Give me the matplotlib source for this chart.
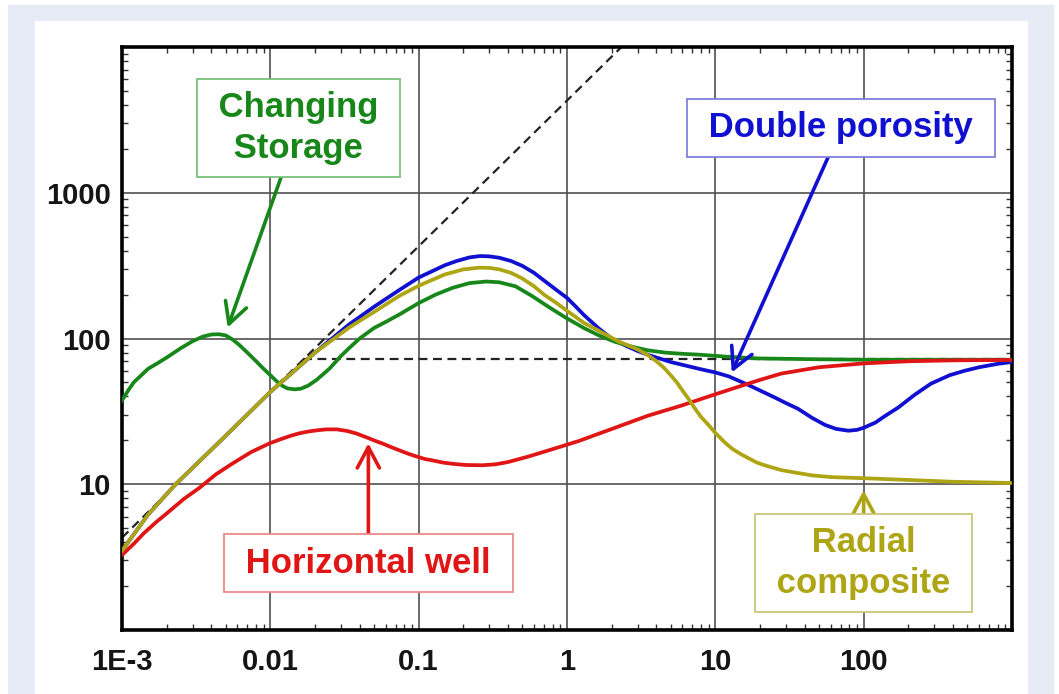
import numpy as np
import matplotlib
matplotlib.use("Agg")
import matplotlib.pyplot as plt
from matplotlib.patches import Rectangle
from matplotlib.ticker import FixedLocator, LogLocator, NullFormatter

plt.rcParams['font.family'] = ['Liberation Sans', 'DejaVu Sans']

# --- data (log-log derivative plot) ---
storage_x = [1e-3, 1.1e-3, 1.2e-3, 1.35e-3, 1.5e-3, 1.75e-3, 2e-3, 2.5e-3, 3e-3, 3.5e-3,
             4e-3, 4.5e-3, 5e-3, 5.6e-3, 6.2e-3, 7e-3, 8e-3, 9e-3, 0.01, 0.011,
             0.012, 0.013, 0.0145, 0.016, 0.018, 0.0205, 0.025, 0.03, 0.034, 0.04,
             0.05, 0.06, 0.074, 0.1, 0.13, 0.17, 0.22, 0.285, 0.35, 0.45,
             0.58, 0.75, 0.98, 1.3, 1.64, 2.1, 2.73, 3.5, 4.6, 6,
             7.7, 12, 19.5, 50, 100, 300, 1000]
storage_y = [37.6, 44, 50, 56, 62, 68, 74, 86, 96, 103,
             106.5, 107, 105, 98, 90, 80, 70, 62, 56, 51,
             47.5, 45.5, 44.8, 45.2, 47.5, 52, 62, 76, 86, 100,
             118, 130, 146, 175, 200, 223, 240, 246, 243, 228,
             196, 165, 139, 118, 105, 95, 88, 83, 80, 78.5,
             77.5, 75, 73, 72, 71.5, 71.5, 71.5]

dporo_x = [1e-3, 1.5e-3, 2.3e-3, 0.005, 0.01, 0.02, 0.034, 0.05, 0.074, 0.1,
           0.15, 0.18, 0.22, 0.26, 0.3, 0.35, 0.42, 0.5, 0.6, 0.7,
           0.85, 1.0, 1.15, 1.3, 1.64, 2, 2.5, 3, 3.55, 5,
           8, 10, 12.3, 16.7, 20, 25, 30, 36, 45, 55,
           65, 78.7, 90, 100, 120, 140, 171, 220, 284, 380,
           477, 600, 800, 1000]
dporo_y = [3.5, 6.2, 10, 21.5, 43, 80, 125, 165, 215, 262,
           318, 340, 360, 368, 366, 358, 340, 315, 282, 250,
           215, 190, 165, 145, 117, 100, 89, 82, 77, 69,
           61.5, 58.5, 55, 48, 44, 39.5, 36, 33, 28.5, 25.5,
           24, 23.3, 23.6, 24.4, 26.5, 29.5, 33.6, 41, 49, 56,
           60, 63.5, 67, 69]

radial_x = [1e-3, 1.5e-3, 2.3e-3, 0.005, 0.01, 0.02, 0.034, 0.05, 0.074, 0.1,
            0.15, 0.2, 0.255, 0.3, 0.35, 0.42, 0.5, 0.6, 0.7, 0.85,
            1.0, 1.3, 1.64, 2.2, 3.0, 3.5, 4, 4.5, 5, 5.5,
            6, 6.6, 7.3, 8, 9, 10, 11.5, 13, 15, 16.7,
            19, 22, 27.9, 35, 45, 60, 100, 200, 400, 1000]
radial_y = [3.5, 6.2, 10, 21.5, 43, 80, 119, 152, 196, 230,
            275, 298, 306, 305, 298, 282, 258, 228, 200, 175,
            155, 128, 113, 96, 84, 77, 70, 63, 56, 50,
            44, 38.5, 33, 29, 25.5, 22.5, 19.5, 17.5, 16, 15.1,
            14.1, 13.4, 12.5, 12, 11.5, 11.2, 11, 10.7, 10.4, 10.2]

horiz_x = [1e-3, 1.2e-3, 1.4e-3, 1.7e-3, 2.0e-3, 2.6e-3, 3.35e-3, 4.3e-3, 5.57e-3, 7.4e-3,
           9.9e-3, 0.0118, 0.0135, 0.0155, 0.018, 0.021, 0.0239, 0.028, 0.033, 0.038,
           0.0444, 0.05, 0.058, 0.066, 0.074, 0.085, 0.095, 0.11, 0.123, 0.145,
           0.17, 0.21, 0.268, 0.33, 0.4, 0.55, 0.755, 1.2, 2.13, 3.5,
           5.93, 9, 13.7, 20, 27.9, 50, 100, 200, 400, 1000]
horiz_y = [3.27, 3.9, 4.6, 5.5, 6.3, 7.9, 9.5, 11.7, 13.9, 16.6,
           19.1, 20.4, 21.4, 22.3, 23.0, 23.5, 23.8, 23.8, 23.2, 22.3,
           21, 20, 18.9, 17.9, 17.1, 16.2, 15.6, 14.9, 14.6, 14.1,
           13.8, 13.55, 13.5, 13.7, 14.2, 15.5, 17.1, 19.8, 24.5, 29.5,
           34.7, 40, 46, 52, 57.5, 63.5, 67.5, 69.8, 70.8, 71.3]

wbs_x = [1e-3, 2.33]          # unit slope line
wbs_y = [4.3, 1e4]
iarf_x = [0.0167, 1000]       # stabilisation line
iarf_y = [72, 72]

xticks = [1e-3, 1e-2, 1e-1, 1, 10, 100]
xticklabels = ['1E-3', '0.01', '0.1', '1', '10', '100']
yticks = [10, 100, 1000]
yticklabels = ['10', '100', '1000']

GREEN = '#17871a'
BLUE = '#1010d0'
RED = '#e01515'
OLIVE = '#aea515'

W, H = 1059, 694
fig = plt.figure(figsize=(W / 100, H / 100), dpi=100)
fig.patch.set_facecolor('white')
fig.add_artist(Rectangle((8 / W, 0), (1053 - 8) / W, (H - 5) / H,
                         transform=fig.transFigure, color='#e6ebf6', zorder=-10))
fig.add_artist(Rectangle((35 / W, 0), (1027 - 35) / W, (H - 21) / H,
                         transform=fig.transFigure, color='white', zorder=-9))

ax = fig.add_axes([122 / W, 1 - 630 / H, (1012 - 122) / W, (630 - 47) / H])
ax.set_xscale('log')
ax.set_yscale('log')
ax.set_xlim(1e-3, 1e3)
ax.set_ylim(1, 1e4)

ax.plot(wbs_x, wbs_y, color='#222222', lw=1.6, dashes=(4, 2.5), zorder=2)
ax.plot(iarf_x, iarf_y, color='#222222', lw=1.6, dashes=(4, 2.5), zorder=2)

ax.plot(dporo_x, dporo_y, color=BLUE, lw=2.7, zorder=3)
ax.plot(storage_x, storage_y, color=GREEN, lw=2.7, zorder=3)
ax.plot(horiz_x, horiz_y, color=RED, lw=2.7, zorder=3)
ax.plot(radial_x, radial_y, color=OLIVE, lw=2.7, zorder=3)

# grid and ticks
ax.grid(True, which='major', color='#505050', lw=1.2)
ax.xaxis.set_major_locator(FixedLocator(xticks))
ax.yaxis.set_major_locator(FixedLocator(yticks))
ax.set_xticklabels(xticklabels)
ax.set_yticklabels(yticklabels)
ax.xaxis.set_minor_locator(LogLocator(base=10, subs=np.arange(2, 10), numticks=20))
ax.yaxis.set_minor_locator(LogLocator(base=10, subs=np.arange(2, 10), numticks=20))
ax.xaxis.set_minor_formatter(NullFormatter())
ax.yaxis.set_minor_formatter(NullFormatter())
ax.tick_params(which='major', length=0, labelsize=21, labelcolor='#151515')
ax.tick_params(axis='x', which='major', pad=13)
ax.tick_params(axis='y', which='major', pad=8)
ax.tick_params(which='minor', direction='in', length=4, width=1,
               top=True, right=True, color='#333333')
for lab in ax.get_xticklabels() + ax.get_yticklabels():
    lab.set_fontweight('bold')
for sp in ax.spines.values():
    sp.set_linewidth(2.6)
    sp.set_color('black')


def label(text, tip, box, color, edge):
    ax.annotate(text, xy=tip, xytext=box, ha='center', va='center',
                fontsize=25, fontweight='bold', color=color, linespacing=1.3,
                bbox=dict(boxstyle='square,pad=0.35', fc='white', ec=edge, lw=1.3),
                arrowprops=dict(arrowstyle='->,head_length=0.6,head_width=0.32',
                                color=color, lw=2.6, shrinkA=0, shrinkB=0),
                zorder=5)


label(' Changing \n Storage ', (5.16e-3, 119), (0.0155, 2786), GREEN, '#7cbf7c')
label(' Double porosity ', (12.9, 58.5), (70.6, 2786), BLUE, '#8080e0')
label(' Horizontal well ', (0.0458, 19.1), (0.0458, 2.88), RED, '#ec8a8a')
label(' Radial \n composite ', (100, 9.1), (100, 2.88), OLIVE, '#cbc67a')

fig.savefig('out.png', dpi=100)
